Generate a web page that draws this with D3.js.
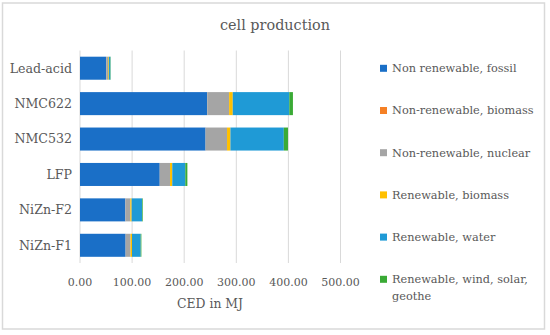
<!DOCTYPE html>
<html>
<head>
<meta charset="utf-8">
<script src="https://cdn.jsdelivr.net/npm/d3@7"></script>
<style>
  body { margin: 0; background: #fff; }
  text { font-family: "DejaVu Serif", serif; fill: #595959; }
</style>
</head>
<body>
<script>
// batteries, top to bottom
const batteries = ["Lead-acid", "NMC622", "NMC532", "LFP", "NiZn-F2", "NiZn-F1"];
const seriesNames = [
  "Non renewable, fossil",
  "Non-renewable, biomass",
  "Non-renewable, nuclear",
  "Renewable, biomass",
  "Renewable, water",
  "Renewable, wind, solar, geothe"
];
// CED in MJ per series, in battery order
const fossil   = [50, 244, 241, 153, 87, 87.5];
const nrBiomass = [0.3, 0.2, 0.2, 0.1, 0.1, 0.1];
const nuclear  = [3.5, 42, 41, 19.7, 9.5, 9.5];
const rBiomass = [1.5, 7, 6.5, 4.3, 2.5, 2.7];
const water    = [3, 108.5, 102.5, 25, 20, 16.7];
const wind     = [0.6, 7, 8, 4, 1.3, 1.3];
const xTicks = [0, 100, 200, 300, 400, 500];
const colors = ["#1a6fc7", "#f58025", "#a5a5a5", "#ffc000", "#1f9ad6", "#3aaa35"];

const allSeries = [fossil, nrBiomass, nuclear, rBiomass, water, wind];
const rows = batteries.map((b, i) => {
  const r = { name: b };
  seriesNames.forEach((s, j) => r[s] = allSeries[j][i]);
  return r;
});

const W = 550, H = 335;
const svg = d3.select("body").append("svg").attr("width", W).attr("height", H);

// outer frame
svg.append("rect").attr("x", 2.5).attr("y", 3).attr("width", 542).attr("height", 326)
  .attr("fill", "#fff").attr("stroke", "#d9d9d9").attr("stroke-width", 1.5);

svg.append("text").attr("x", 275).attr("y", 30).attr("text-anchor", "middle")
  .style("font-size", "14.4px").text("cell production");

const x = d3.scaleLinear().domain([0, 500]).range([80, 340.5]);
const y = d3.scaleBand().domain(batteries).range([50.5, 263]).paddingInner(0.35).paddingOuter(0.175);

// gridlines
svg.append("g").selectAll("line").data(xTicks).join("line")
  .attr("x1", d => x(d)).attr("x2", d => x(d))
  .attr("y1", 50.5).attr("y2", 263)
  .attr("stroke", "#d9d9d9").attr("stroke-width", 1);

const stack = d3.stack().keys(seriesNames)(rows);

svg.append("g").selectAll("g").data(stack).join("g")
  .attr("fill", (d, i) => colors[i])
  .selectAll("rect").data(d => d).join("rect")
  .attr("x", d => x(d[0]))
  .attr("width", d => x(d[1]) - x(d[0]))
  .attr("y", d => y(d.data.name))
  .attr("height", y.bandwidth());

// y labels
svg.append("g").selectAll("text").data(batteries).join("text")
  .attr("x", 72).attr("y", d => y(d) + y.bandwidth() / 2)
  .attr("dy", "0.35em").attr("text-anchor", "end")
  .style("font-size", "12.6px").text(d => d);

// x tick labels
svg.append("g").selectAll("text").data(xTicks).join("text")
  .attr("x", d => x(d)).attr("y", 286).attr("text-anchor", "middle")
  .style("font-size", "11px").text(d => d3.format(".2f")(d));

svg.append("text").attr("x", 210).attr("y", 308).attr("text-anchor", "middle")
  .style("font-size", "12.4px").text("CED in MJ");

// legend
const leg = svg.append("g").selectAll("g").data(seriesNames).join("g")
  .attr("transform", (d, i) => `translate(380, ${68.3 + i * 42.2})`);
leg.append("rect").attr("x", 0).attr("y", -3.5).attr("width", 7).attr("height", 7)
  .attr("fill", (d, i) => colors[i]);
leg.append("text").attr("x", 12).attr("dy", "0.35em").style("font-size", "11.3px")
  .each(function (d) {
    const t = d3.select(this);
    if (d.length > 24) {
      const cut = d.lastIndexOf(" ");
      t.append("tspan").attr("x", 12).text(d.slice(0, cut));
      t.append("tspan").attr("x", 12).attr("dy", "1.5em").text(d.slice(cut + 1));
    } else {
      t.text(d);
    }
  });
</script>
</body>
</html>
